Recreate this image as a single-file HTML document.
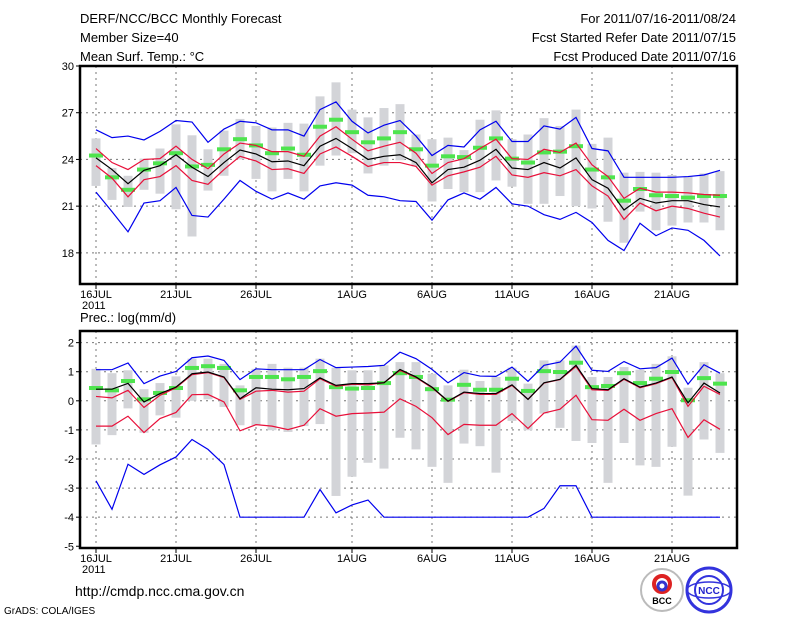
<!DOCTYPE html>
<html><head><meta charset="utf-8"><style>
body{margin:0;background:#fff;width:800px;height:618px;overflow:hidden}
svg text{font-family:"Liberation Sans",sans-serif;fill:#000}
</style></head><body>
<svg id="chart" width="800" height="618" viewBox="0 0 800 618" xmlns="http://www.w3.org/2000/svg">
<text x="80" y="23" font-size="13">DERF/NCC/BCC Monthly Forecast</text>
<text x="80" y="42" font-size="13">Member Size=40</text>
<text x="80" y="61" font-size="13">Mean Surf. Temp.: °C</text>
<text x="736" y="23" font-size="13" text-anchor="end">For 2011/07/16-2011/08/24</text>
<text x="736" y="42" font-size="13" text-anchor="end">Fcst Started Refer Date 2011/07/15</text>
<text x="736" y="61" font-size="13" text-anchor="end">Fcst Produced Date 2011/07/16</text>
<text x="80" y="322" font-size="13">Prec.: log(mm/d)</text>
<text x="75" y="596" font-size="14">http://cmdp.ncc.cma.gov.cn</text>
<text x="4" y="614" font-size="10">GrADS: COLA/IGES</text>
<g>
<circle cx="662" cy="590" r="21" fill="#fff" stroke="#bbb" stroke-width="2"/>
<circle cx="662" cy="584" r="8" fill="none" stroke="#d22" stroke-width="4"/>
<circle cx="662" cy="586" r="4" fill="none" stroke="#33c" stroke-width="3"/>
<text x="662" y="604" font-size="9" text-anchor="middle" font-weight="bold">BCC</text>
</g>
<g>
<circle cx="709" cy="590" r="22" fill="#fff" stroke="#33d" stroke-width="3"/>
<circle cx="709" cy="590" r="14" fill="none" stroke="#33d" stroke-width="2"/>
<ellipse cx="709" cy="590" rx="22" ry="8" fill="none" stroke="#33d" stroke-width="1.5"/>
<text x="709" y="594" font-size="10" text-anchor="middle" font-weight="bold" style="fill:#22c">NCC</text>
</g>
<g id="top"></g><g id="bot"></g>
</svg>
<script>
const dayTicks=[0,5,10,16,21,26,31,36];
const dayLabels=["16JUL","21JUL","26JUL","1AUG","6AUG","11AUG","16AUG","21AUG"];
const tMean=[24.1,23.35,22.44,23.3,23.6,24.3,23.5,22.9,23.8,24.6,24.35,23.85,23.9,23.6,24.85,25.35,24.7,24.0,24.2,24.3,23.8,22.5,23.35,23.5,23.95,24.65,23.45,23.35,23.8,23.45,24.1,22.7,22.15,20.75,21.5,21.2,21.35,21.35,21.1,20.95];
const tRedHi=[24.7,23.8,23.35,24.0,24.05,24.85,24.0,23.4,24.35,25.05,24.9,24.5,24.5,24.2,25.5,26.1,25.3,24.55,24.85,25.1,24.4,23.1,23.8,24.05,24.7,25.3,24.05,24.0,24.65,24.45,25.05,23.65,22.9,21.5,22.15,21.9,21.9,21.85,21.75,21.7];
const tRedLo=[23.6,22.8,21.6,22.7,22.9,23.6,22.65,22.4,23.35,24.2,23.9,23.35,23.4,23.1,24.35,24.8,24.2,23.55,23.8,23.8,23.55,22.35,22.95,23.2,23.5,24.2,23.0,22.85,23.15,22.95,23.35,22.3,21.65,20.15,21.2,20.7,21.0,20.85,20.55,20.3];
const tBlueHi=[25.9,25.4,25.5,25.25,25.8,26.5,26.4,25.1,25.95,26.45,26.35,25.9,25.9,25.5,27.2,27.7,26.45,25.7,26.2,26.5,25.5,24.25,24.9,24.8,25.9,26.45,25.15,25.15,26.15,25.95,26.7,24.7,24.55,22.85,22.85,22.85,22.85,22.9,23.0,23.3];
const tBlueLo=[21.9,20.65,19.35,21.2,21.35,22.2,20.4,20.3,21.45,22.65,21.95,21.45,21.85,21.45,22.3,22.5,22.35,21.7,21.6,21.35,21.3,20.1,21.4,21.85,21.45,22.2,21.15,21.0,20.45,20.15,20.6,19.95,18.8,18.15,19.9,19.1,19.6,19.45,18.8,17.8];
const tObs=[24.25,22.85,22.05,23.35,23.75,24.4,23.55,23.65,24.65,25.3,24.9,24.4,24.7,24.3,26.1,26.55,25.75,25.1,25.35,25.75,24.65,23.6,24.2,24.15,24.75,25.35,24.05,23.8,24.45,24.5,24.85,23.35,22.85,21.35,22.1,21.7,21.65,21.55,21.65,21.65];
const tMax=[25.35,23.45,22.95,24.05,24.7,26.25,25.55,24.65,25.85,26.6,26.15,26.05,26.35,26.3,28.05,28.95,27.2,26.7,27.3,27.55,25.6,25.3,25.4,24.6,26.55,27.15,25.3,25.6,26.65,26.15,27.2,25.0,25.4,23.15,23.2,23.15,23.0,22.9,23.1,23.25];
const tMin=[22.3,21.4,20.95,22.05,21.8,20.8,19.05,22.0,22.95,24.0,22.75,21.95,22.75,21.95,23.6,24.25,24.4,23.1,23.6,23.95,23.55,21.3,22.1,21.9,21.9,22.65,22.25,21.15,21.15,21.65,21.0,20.85,20.0,18.65,20.65,19.45,19.75,19.95,19.95,19.45];
const pMean=[0.4,0.4,0.6,-0.04,0.25,0.47,0.93,0.99,0.82,0.07,0.45,0.4,0.38,0.42,0.79,0.53,0.59,0.59,0.62,1.08,0.82,0.47,-0.01,0.3,0.25,0.25,0.55,0.05,0.62,0.74,1.22,0.42,0.38,0.76,0.47,0.61,0.82,-0.07,0.61,0.27];
const pRedHi=[0.15,0.1,0.36,-0.23,0.19,0.45,0.9,0.97,0.8,0.05,0.33,0.36,0.3,0.33,0.76,0.5,0.57,0.55,0.62,1.05,0.8,0.45,-0.02,0.28,0.22,0.22,0.53,0.05,0.61,0.73,1.18,0.38,0.36,0.74,0.45,0.59,0.8,-0.19,0.5,0.22];
const pRedLo=[-0.87,-0.87,-0.53,-1.09,-0.61,-0.4,0.21,0.22,-0.04,-1.03,-0.82,-0.87,-0.99,-0.84,-0.27,-0.53,-0.44,-0.42,-0.39,0.07,-0.19,-0.58,-1.16,-0.81,-0.84,-0.84,-0.44,-0.95,-0.42,-0.29,0.19,-0.65,-0.67,-0.29,-0.67,-0.44,-0.27,-1.26,-0.65,-0.98];
const pBlueHi=[1.07,1.07,1.3,0.59,0.85,1.01,1.48,1.54,1.39,0.73,1.1,1.07,1.07,1.07,1.42,1.14,1.16,1.18,1.22,1.67,1.45,1.08,0.62,0.97,0.85,0.84,1.16,0.67,1.22,1.33,1.88,1.05,1.01,1.35,1.1,1.14,1.47,0.57,1.24,0.95];
const pBlueLo=[-2.75,-3.73,-2.18,-2.53,-2.2,-1.93,-1.33,-1.67,-2.19,-4,-4,-4,-4,-4,-3.05,-3.85,-3.58,-3.41,-4,-4,-4,-4,-4,-4,-4,-4,-4,-4,-3.7,-2.92,-2.92,-4,-4,-4,-4,-4,-4,-4,-4,-4];
const pObs=[0.44,0.36,0.68,0.05,0.27,0.44,1.13,1.19,1.13,0.36,0.82,0.82,0.74,0.82,1.02,0.47,0.42,0.44,0.61,0.95,0.82,0.4,0.04,0.55,0.38,0.38,0.76,0.34,1.02,0.99,1.31,0.47,0.51,0.95,0.61,0.76,0.99,0.02,0.78,0.59];
const pMax=[1.1,0.95,1.05,0.4,0.61,0.84,1.45,1.45,1.27,0.53,1.1,1.27,1.14,1.14,1.45,1.14,1.05,1.05,1.22,1.33,1.33,0.93,0.53,1.07,0.68,0.82,1.14,0.59,1.39,1.39,1.9,0.82,0.82,1.16,1.07,1.27,1.53,0.45,1.33,0.95];
const pMin=[-1.5,-1.18,-0.26,-1.1,-0.5,-0.58,0.0,0.05,-0.21,-0.84,-0.84,-1.01,-1.07,-0.87,-0.8,-3.27,-2.61,-2.13,-2.33,-1.27,-1.67,-2.27,-2.82,-1.47,-1.56,-2.47,-0.69,-1.01,-0.44,-0.93,-1.38,-1.45,-2.82,-1.45,-2.22,-2.27,-1.58,-3.26,-1.33,-1.79];
const NS="http://www.w3.org/2000/svg";
const X0=80,X1=737;
const xs=i=>96+16*i;
function mk(parent,tag,attrs){const e=document.createElementNS(NS,tag);for(const k in attrs)e.setAttribute(k,attrs[k]);parent.appendChild(e);return e;}
function panel(g,top,bot,vmax,vmin,grid,ticks,ser,prefix){
  const ys=v=>top+(vmax-v)/(vmax-vmin)*(bot-top);
  grid.forEach(v=>{const l=mk(g,'line',{x1:X0,x2:X1,y1:ys(v),y2:ys(v),stroke:'#777','stroke-dasharray':'2,4','stroke-width':1});
    
    });
  dayTicks.forEach((d,k)=>{const l=mk(g,'line',{x1:xs(d),x2:xs(d),y1:top,y2:bot,stroke:'#777','stroke-dasharray':'2,4','stroke-width':1});
    
    
    mk(g,'line',{x1:xs(d),x2:xs(d),y1:bot,y2:bot+5,stroke:'#000'});
    const t=mk(g,'text',{x:xs(d),y:bot+14,'font-size':11,'text-anchor':'middle'});t.textContent=dayLabels[k];
    
    });
  const yr=mk(g,'text',{x:82,y:bot+25,'font-size':11});yr.textContent='2011';
  
  
  ticks.forEach(v=>{mk(g,'line',{x1:X0-4,x2:X0,y1:ys(v),y2:ys(v),stroke:'#000'});
    const t=mk(g,'text',{x:X0-6,y:ys(v)+4,'font-size':11,'text-anchor':'end'});t.textContent=v;
    
    });
  ser.max.forEach((v,i)=>{const r=mk(g,'rect',{x:xs(i)-4.5,y:ys(v),width:9,height:ys(ser.min[i])-ys(v),fill:'#d3d4d8'});
    
    });
  ser.obs.forEach((v,i)=>{const r=mk(g,'rect',{x:xs(i)-7,y:ys(v)-2,width:14,height:4,fill:'#4ee44e'});
    
    });
  [['blueHi','#0000ee'],['blueLo','#0000ee'],['redHi','#e8103a'],['redLo','#e8103a'],['mean','#000']].forEach(([k,c])=>{
    const p=mk(g,'polyline',{points:ser[k].map((v,i)=>xs(i)+','+ys(v)).join(' '),fill:'none',stroke:c,'stroke-width':1.2});
    
    });
  const b=mk(g,'rect',{x:X0,y:top,width:X1-X0,height:bot-top,fill:'none',stroke:'#000','stroke-width':2.5});
  
  
}
const gt=document.getElementById('top');


panel(gt,66,284,30,16,[27,24,21,18],[30,27,24,21,18],{mean:tMean,redHi:tRedHi,redLo:tRedLo,blueHi:tBlueHi,blueLo:tBlueLo,obs:tObs,max:tMax,min:tMin},'temp');
const gb=document.getElementById('bot');


panel(gb,331,548,2.4,-5.06,[2,1,0,-1,-2,-3,-4],[2,1,0,-1,-2,-3,-4,-5],{mean:pMean,redHi:pRedHi,redLo:pRedLo,blueHi:pBlueHi,blueLo:pBlueLo,obs:pObs,max:pMax,min:pMin},'prec');
</script>
</body></html>
